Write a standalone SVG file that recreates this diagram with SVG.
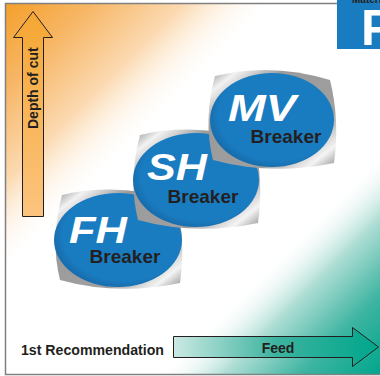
<svg xmlns="http://www.w3.org/2000/svg" width="380" height="376" viewBox="0 0 380 376">
<defs>
<linearGradient id="gOr" gradientUnits="userSpaceOnUse" x1="5" y1="4" x2="142" y2="141">
<stop offset="0" stop-color="#f4a02a"/><stop offset="0.3" stop-color="#f7b563"/><stop offset="0.65" stop-color="#fbd9b0"/><stop offset="1" stop-color="#ffffff" stop-opacity="0"/>
</linearGradient>
<linearGradient id="gTe" gradientUnits="userSpaceOnUse" x1="380" y1="374" x2="268" y2="262">
<stop offset="0" stop-color="#00a68c"/><stop offset="0.35" stop-color="#3db4a1"/><stop offset="0.7" stop-color="#b0ded5"/><stop offset="1" stop-color="#ffffff" stop-opacity="0"/>
</linearGradient>
<linearGradient id="gFeed" x1="0" y1="0" x2="1" y2="0">
<stop offset="0" stop-color="#cbe9e3"/><stop offset="0.5" stop-color="#3db39f"/><stop offset="1" stop-color="#00a68c"/>
</linearGradient>
<linearGradient id="gUp" x1="0" y1="0" x2="0" y2="1">
<stop offset="0" stop-color="#f5a632"/><stop offset="1" stop-color="#fbc47e"/>
</linearGradient>
<linearGradient id="gSil" x1="0" y1="0" x2="1" y2="1">
<stop offset="0" stop-color="#8a8a8a"/><stop offset="0.12" stop-color="#f2f2f2"/><stop offset="0.3" stop-color="#9a9a9a"/><stop offset="0.7" stop-color="#a0a0a0"/><stop offset="0.88" stop-color="#f4f4f4"/><stop offset="1" stop-color="#8a8a8a"/>
</linearGradient>
<radialGradient id="gBlue" cx="0.55" cy="0.45" r="0.6">
<stop offset="0.8" stop-color="#1a7cc0"/><stop offset="1" stop-color="#1566a5"/>
</radialGradient>
<style>
.big{font-family:"Liberation Sans",Arial,sans-serif;font-weight:bold;font-style:italic;fill:#ffffff;font-size:36px}
.brk{font-family:"Liberation Sans",Arial,sans-serif;font-weight:bold;fill:#231f20;font-size:19px}
.lab{font-family:"Liberation Sans",Arial,sans-serif;font-weight:bold;fill:#231f20;font-size:14px}
.arw{stroke:#231f20;stroke-width:1}
.sil{fill:url(#gSil)}
.ell{fill:url(#gBlue)}
</style>
</defs>
<rect x="0" y="0" width="380" height="376" fill="#ffffff"/>
<rect x="5.5" y="3.5" width="380" height="371" fill="url(#gOr)"/>
<rect x="5.5" y="3.5" width="380" height="371" fill="url(#gTe)"/>
<rect x="5.5" y="3.5" width="380" height="371" fill="none" stroke="#808080" stroke-width="1.5"/>
<g id="material">
<rect x="337" y="0" width="43" height="49" fill="#1a7cc0"/>
<text x="352" y="2.5" style="font-family:'Liberation Sans',Arial,sans-serif;font-weight:bold;font-size:10px;fill:#231f20">Material</text>
<text x="361" y="45" style="font-family:'Liberation Sans',Arial,sans-serif;font-weight:bold;font-size:50px;fill:#ffffff">F</text>
</g>
<g id="connectors">
<path id="depth-arrow" class="arw" fill="url(#gUp)" d="M22.5,216.5 V37.5 H13.5 L33,11.5 L52.5,37.5 H43.5 V216.5 Z"/>
<path id="feed-arrow" class="arw" fill="url(#gFeed)" d="M173.5,336.5 H352.5 V327.5 L378.5,347 L352.5,366.5 V357.5 H173.5 Z"/>
</g>
<text class="lab" transform="translate(38,129) rotate(-90)">Depth of cut</text>
<text class="lab" x="278" y="353" text-anchor="middle">Feed</text>
<text class="lab" x="21" y="355" textLength="143" lengthAdjust="spacingAndGlyphs">1st Recommendation</text>
<g id="fh">
<path class="sil" d="M62,195 Q118,182 176,200 Q186,240 180,283 Q118,296 60,280 Q50,240 62,195 Z"/>
<ellipse class="ell" cx="118" cy="240" rx="64" ry="47"/>
<text class="big" x="98" y="243" text-anchor="middle" textLength="58" lengthAdjust="spacingAndGlyphs">FH</text>
<text class="brk" x="125" y="263" text-anchor="middle">Breaker</text>
</g>
<g id="sh">
<path class="sil" d="M140,135 Q196,122 254,140 Q264,180 258,223 Q196,236 138,220 Q128,180 140,135 Z"/>
<ellipse class="ell" cx="196" cy="180" rx="63" ry="47"/>
<text class="big" x="177" y="180" text-anchor="middle" textLength="60" lengthAdjust="spacingAndGlyphs">SH</text>
<text class="brk" x="203" y="203" text-anchor="middle">Breaker</text>
</g>
<g id="mv">
<path class="sil" d="M215,76 Q272,62 330,80 Q340,120 334,163 Q272,176 213,160 Q203,120 215,76 Z"/>
<ellipse class="ell" cx="272" cy="120" rx="62" ry="47"/>
<text class="big" x="262" y="121" text-anchor="middle" textLength="68" lengthAdjust="spacingAndGlyphs">MV</text>
<text class="brk" x="286" y="143" text-anchor="middle">Breaker</text>
</g>
</svg>
